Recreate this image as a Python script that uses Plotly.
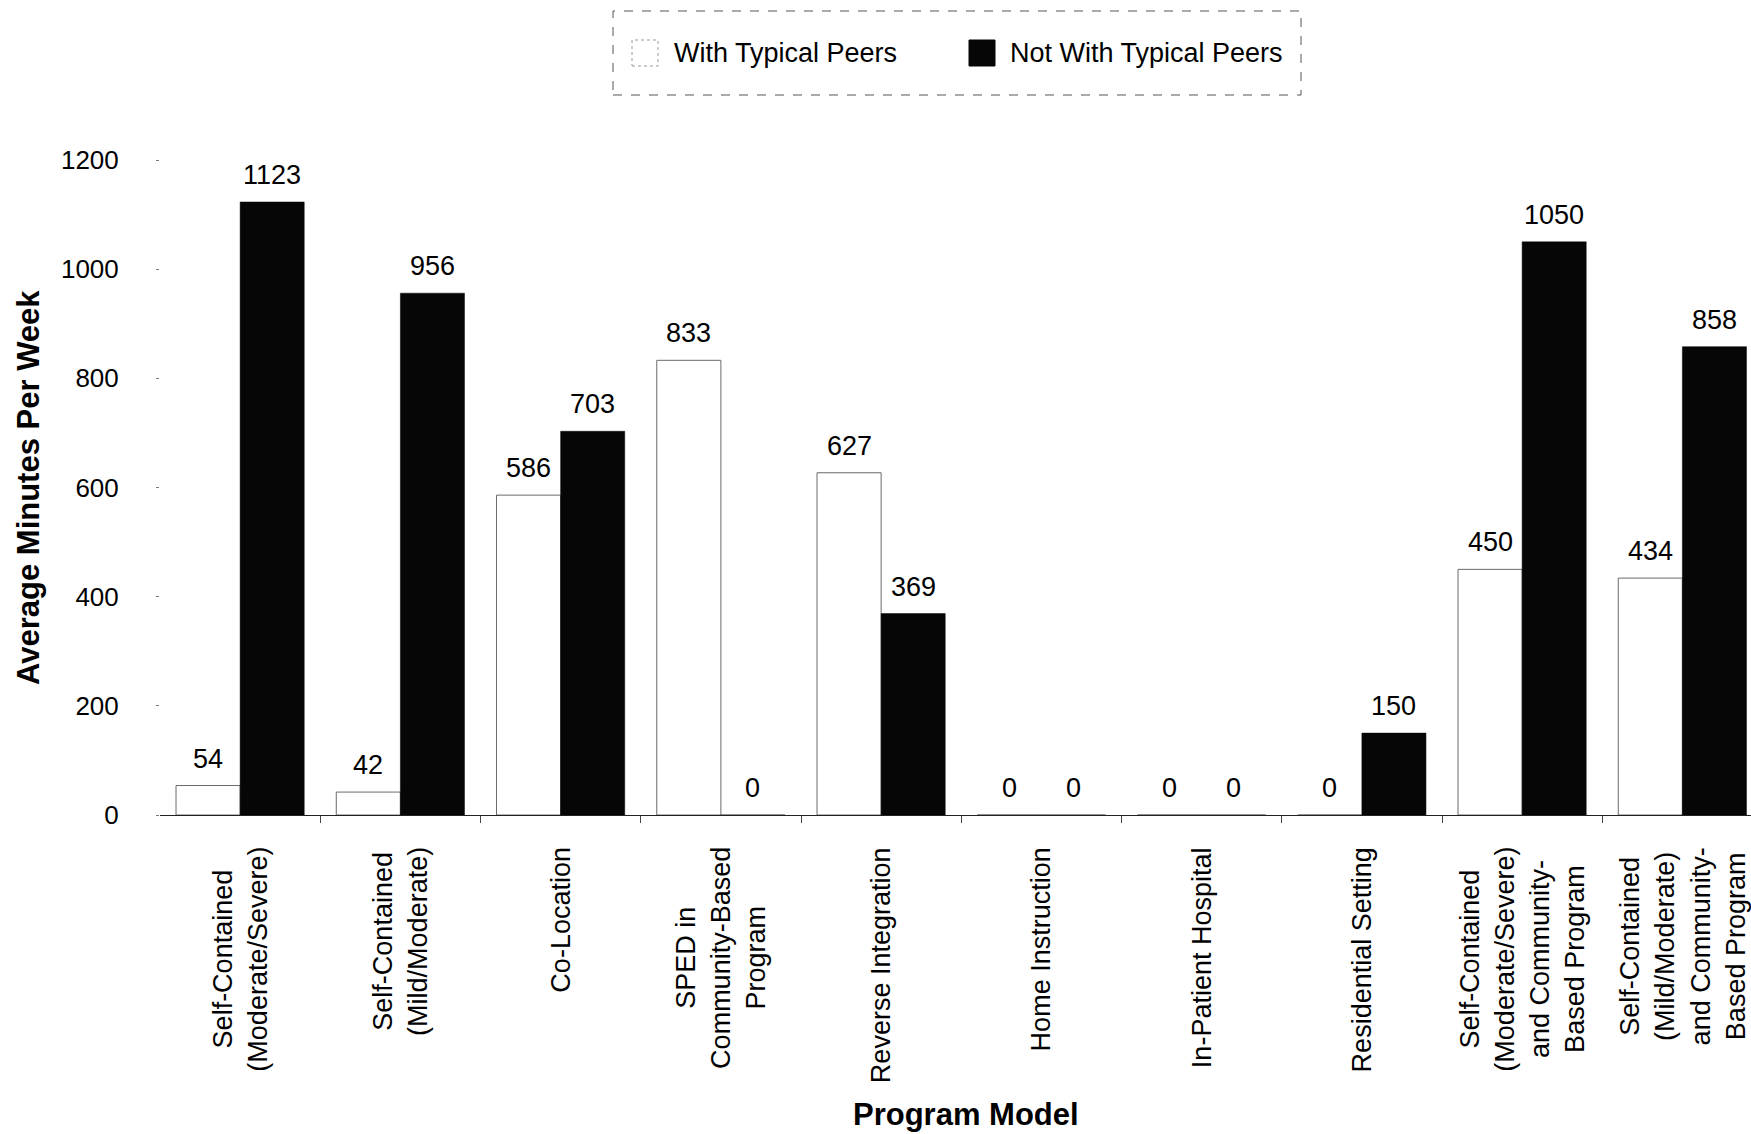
import plotly.graph_objects as go

# Program models (category labels, wrapped as printed)
categories = [
    "Self-Contained<br>(Moderate/Severe)",
    "Self-Contained<br>(Mild/Moderate)",
    "Co-Location",
    "SPED in<br>Community-Based<br>Program",
    "Reverse Integration",
    "Home Instruction",
    "In-Patient Hospital",
    "Residential Setting",
    "Self-Contained<br>(Moderate/Severe)<br>and Community-<br>Based Program",
    "Self-Contained<br>(Mild/Moderate)<br>and Community-<br>Based Program",
]

# Average minutes per week
with_typical_peers = [54, 42, 586, 833, 627, 0, 0, 0, 450, 434]
not_with_typical_peers = [1123, 956, 703, 0, 369, 0, 0, 150, 1050, 858]

y_ticks = [0, 200, 400, 600, 800, 1000, 1200]

series_names = ["With Typical Peers", "Not With Typical Peers"]

# ---- page geometry (pixels) ----
W, H = 1751, 1134
ML, MR, MT, MB = 160, 0, 160, 319
PW, PH = W - ML - MR, H - MT - MB
GROUP_PX = 160.25                       # pixel width of one category slot
X_MAX = -0.5 + PW / GROUP_PX
FONT = "Liberation Sans, Arial, Helvetica, sans-serif"
TXT = 27


def px_x(px):
    return (px - ML) / PW


def px_y(py):
    return (H - MB - py) / PH


xs = list(range(len(categories)))

fig = go.Figure()
fig.add_trace(go.Bar(
    x=xs, y=with_typical_peers, name=series_names[0],
    marker=dict(color="white", line=dict(color="#6a6a6a", width=1)),
    showlegend=False, cliponaxis=False,
))
fig.add_trace(go.Bar(
    x=xs, y=not_with_typical_peers, name=series_names[1],
    marker=dict(color="#060606", line=dict(color="#060606", width=0.5)),
    showlegend=False, cliponaxis=False,
))

# value labels above each bar
annotations = []
for offset, vals in ((-0.2, with_typical_peers), (0.2, not_with_typical_peers)):
    for i, v in enumerate(vals):
        annotations.append(dict(
            x=i + offset, y=v, xref="x", yref="y", text=str(v),
            showarrow=False, yanchor="bottom", yshift=10,
            font=dict(family=FONT, size=TXT, color="black"),
        ))

# rotated category labels, centred line by line
for i, c in enumerate(categories):
    annotations.append(dict(
        x=i, y=0, xref="x", yref="paper", text=c, textangle=-90,
        showarrow=False, xanchor="center", yanchor="top", yshift=-30,
        align="center",
        font=dict(family=FONT, size=TXT, color="black"),
    ))

# axis titles
annotations.append(dict(
    x=px_x(966), y=px_y(1114), xref="paper", yref="paper",
    text="<b>Program Model</b>", showarrow=False,
    xanchor="center", yanchor="middle",
    font=dict(family=FONT, size=31, color="black"),
))
annotations.append(dict(
    x=px_x(28), y=px_y(488), xref="paper", yref="paper",
    text="<b>Average Minutes Per Week</b>", showarrow=False, textangle=-90,
    xanchor="center", yanchor="middle",
    font=dict(family=FONT, size=31, color="black"),
))

# legend: dashed frame, two swatches and their labels
shapes = [
    dict(type="rect", xref="paper", yref="paper",
         x0=px_x(613), x1=px_x(1301), y0=px_y(95), y1=px_y(11),
         line=dict(color="#555555", width=1, dash="dash"), fillcolor="rgba(0,0,0,0)"),
    dict(type="rect", xref="paper", yref="paper",
         x0=px_x(632), x1=px_x(658), y0=px_y(66), y1=px_y(40),
         line=dict(color="#9a9a9a", width=1, dash="dot"), fillcolor="white"),
    dict(type="rect", xref="paper", yref="paper",
         x0=px_x(969), x1=px_x(995), y0=px_y(66), y1=px_y(40),
         line=dict(color="#060606", width=1), fillcolor="#060606"),
]
annotations.append(dict(
    x=px_x(672), y=px_y(53), xref="paper", yref="paper", text=series_names[0],
    showarrow=False, xanchor="left", yanchor="middle",
    font=dict(family=FONT, size=TXT, color="black"),
))
annotations.append(dict(
    x=px_x(1008), y=px_y(53), xref="paper", yref="paper", text=series_names[1],
    showarrow=False, xanchor="left", yanchor="middle",
    font=dict(family=FONT, size=TXT, color="black"),
))

fig.update_layout(
    width=W, height=H,
    margin=dict(l=ML, r=MR, t=MT, b=MB, pad=0),
    paper_bgcolor="white", plot_bgcolor="white",
    barmode="group", bargap=0.2, bargroupgap=0,
    font=dict(family=FONT, size=TXT, color="black"),
    showlegend=False,
    annotations=annotations, shapes=shapes,
    xaxis=dict(
        range=[-0.5, X_MAX], showgrid=False, zeroline=False,
        showline=True, linecolor="#222222", linewidth=1,
        tickmode="array", tickvals=[i + 0.5 for i in xs[:-1]],
        ticks="outside", ticklen=7, tickcolor="#444444",
        showticklabels=False,
    ),
    yaxis=dict(
        range=[0, 1200], showgrid=False, zeroline=False, showline=False,
        tickmode="array", tickvals=y_ticks, ticktext=[str(t) for t in y_ticks],
        ticks="outside", ticklen=3, tickcolor="#777777",
        ticklabelstandoff=32,
        tickfont=dict(family=FONT, size=26, color="black"),
    ),
)

fig.write_html("out.html")
